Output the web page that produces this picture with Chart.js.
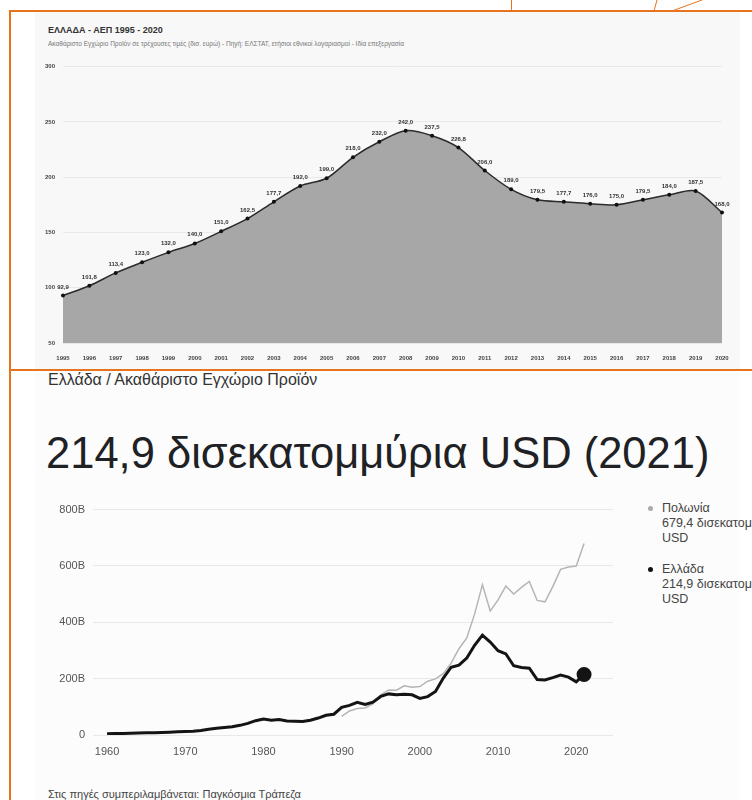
<!DOCTYPE html>
<html lang="el">
<head>
<meta charset="utf-8">
<title>Ελλάδα - ΑΕΠ</title>
<script src="https://cdn.jsdelivr.net/npm/chart.js@4.4.1/dist/chart.umd.min.js"></script>
<style>
  html, body { margin: 0; padding: 0; background: #fff; }
  body { width: 752px; height: 800px; position: relative; overflow: hidden; font-family: "Liberation Sans", Arial, sans-serif; }
  .bar { position: absolute; background: #e8731f; }
  .panel { position: absolute; }
  .txt { position: absolute; white-space: nowrap; }
  #top-wrap { position: absolute; left: 35px; top: 55px; width: 705px; height: 313px; }
  #bottom-wrap { position: absolute; left: 40px; top: 495px; width: 600px; height: 270px; }
  .legend { position: absolute; left: 648px; font-size: 12.5px; line-height: 15px; color: #444; }
  .legend .dot { position: absolute; left: 0; top: 5px; width: 5px; height: 5px; border-radius: 50%; }
  .legend .lbl { position: absolute; left: 14px; top: 0; white-space: nowrap; }
</style>
</head>
<body>
  <!-- panel backgrounds -->
  <div class="panel" style="left:35px;top:12px;width:705px;height:357px;background:#f8f8f8"></div>
  <div class="panel" style="left:35px;top:372px;width:705px;height:428px;background:#fcfcfc"></div>

  <!-- orange frame -->
  <div class="bar" style="left:9px;top:10px;width:743px;height:2px"></div>
  <div class="bar" style="left:9px;top:10px;width:2px;height:790px"></div>
  <div class="bar" style="left:9px;top:369px;width:743px;height:2px"></div>
  <div class="bar" style="left:511px;top:0;width:1px;height:11px"></div>
  <svg style="position:absolute;left:640px;top:0" width="80" height="12">
    <line x1="14" y1="11" x2="17" y2="0" stroke="#e8731f" stroke-width="1"/>
    <line x1="32" y1="11" x2="62" y2="0" stroke="#e8731f" stroke-width="1"/>
  </svg>

  <!-- top panel text -->
  <div class="txt" style="left:48px;top:25px;font-size:9px;font-weight:bold;color:#333">ΕΛΛΑΔΑ - ΑΕΠ 1995 - 2020</div>
  <div class="txt" style="left:48px;top:40px;font-size:6.5px;color:#777">Ακαθάριστο Εγχώριο Προϊόν σε τρέχουσες τιμές (δισ. ευρώ) - Πηγή: ΕΛΣΤΑΤ, ετήσιοι εθνικοί λογαριασμοί - Ιδία επεξεργασία</div>
  <div id="top-wrap"><canvas id="topChart"></canvas></div>

  <!-- bottom panel text -->
  <div class="txt" style="left:48px;top:371px;font-size:16px;color:#333">Ελλάδα / Ακαθάριστο Εγχώριο Προϊόν</div>
  <div class="txt" style="left:46px;top:429px;font-size:43.5px;color:#202124">214,9 δισεκατομμύρια USD (2021)</div>
  <div id="bottom-wrap"><canvas id="bottomChart"></canvas></div>

  <div class="legend" style="top:501px">
    <span class="dot" style="background:#aaa"></span>
    <div class="lbl">Πολωνία<br>679,4 δισεκατομμύρια<br>USD</div>
  </div>
  <div class="legend" style="top:562px">
    <span class="dot" style="background:#111"></span>
    <div class="lbl">Ελλάδα<br>214,9 δισεκατομμύρια<br>USD</div>
  </div>

  <div class="txt" style="left:48px;top:788px;font-size:11px;color:#444">Στις πηγές συμπεριλαμβάνεται: Παγκόσμια Τράπεζα</div>

<script>
// top chart: Greek GDP, current prices, bn EUR
const eurYears = ['1995', '1996', '1997', '1998', '1999', '2000', '2001', '2002', '2003', '2004', '2005', '2006', '2007',
  '2008', '2009', '2010', '2011', '2012', '2013', '2014', '2015', '2016', '2017', '2018', '2019', '2020'];
const eurGdp = [92.9, 101.8, 113.4, 123.0, 132.0, 140.0, 151.0, 162.5, 177.7, 192.0, 199.0, 218.0, 232.0,
  242.0, 237.5, 226.8, 206.0, 189.0, 179.5, 177.7, 176.0, 175.0, 179.5, 184.0, 187.5, 168.0];
const eurTicks = [50, 100, 150, 200, 250, 300];

// bottom chart: GDP, bn USD
const usdYears = [1960, 1961, 1962, 1963, 1964, 1965, 1966, 1967, 1968, 1969,
  1970, 1971, 1972, 1973, 1974, 1975, 1976, 1977, 1978, 1979,
  1980, 1981, 1982, 1983, 1984, 1985, 1986, 1987, 1988, 1989,
  1990, 1991, 1992, 1993, 1994, 1995, 1996, 1997, 1998, 1999,
  2000, 2001, 2002, 2003, 2004, 2005, 2006, 2007, 2008, 2009,
  2010, 2011, 2012, 2013, 2014, 2015, 2016, 2017, 2018, 2019,
  2020, 2021];
const greeceUsd = [4.5, 5.0, 5.3, 5.9, 6.7, 7.6, 8.4, 9.1, 9.8, 11.1,
  12.5, 13.7, 15.8, 20.5, 23.6, 26.3, 29.6, 34.3, 41.3, 50.9,
  56.6, 52.7, 54.9, 50.1, 48.8, 48.0, 52.4, 60.1, 70.0, 73.7,
  97.9, 105.1, 116.2, 108.8, 116.6, 136.9, 145.9, 143.2, 144.4, 142.5,
  130.1, 136.2, 154.2, 201.9, 240.5, 247.8, 273.3, 318.5, 354.5, 330.0,
  299.4, 287.8, 245.7, 239.9, 237.0, 196.7, 195.3, 203.5, 212.4, 205.3,
  188.8, 214.9];
const polandUsd = [null, null, null, null, null, null, null, null, null, null,
  null, null, null, null, null, null, null, null, null, null,
  null, null, null, null, null, null, null, null, null, null,
  66.0, 85.5, 94.3, 96.0, 110.8, 142.3, 159.9, 159.1, 174.4, 169.7,
  171.9, 190.9, 199.0, 217.5, 255.1, 306.1, 344.7, 429.0, 533.6, 439.8,
  479.8, 528.6, 500.4, 524.2, 545.3, 477.6, 472.6, 526.5, 588.0, 596.1,
  599.4, 679.4];
const usdTicks = [0, 200, 400, 600, 800];
const decadeTicks = [1960, 1970, 1980, 1990, 2000, 2010, 2020];

// draws the value above each point of the area chart
const pointLabels = {
  id: 'pointLabels',
  afterDatasetsDraw(chart) {
    const ctx = chart.ctx;
    const meta = chart.getDatasetMeta(0);
    ctx.save();
    ctx.font = 'bold 6px "Liberation Sans", Arial, sans-serif';
    ctx.fillStyle = '#333';
    ctx.textAlign = 'center';
    ctx.textBaseline = 'alphabetic';
    meta.data.forEach((pt, i) => {
      ctx.fillText(eurGdp[i].toFixed(1).replace('.', ','), pt.x, pt.y - 7);
    });
    ctx.restore();
  }
};

new Chart(document.getElementById('topChart'), {
  type: 'line',
  data: {
    labels: eurYears,
    datasets: [{
      data: eurGdp,
      fill: 'start',
      backgroundColor: '#a7a7a7',
      borderColor: '#2b2b2b',
      borderWidth: 1.5,
      tension: 0.3,
      pointRadius: 2,
      pointBackgroundColor: '#111',
      pointBorderWidth: 0
    }]
  },
  options: {
    responsive: true,
    maintainAspectRatio: false,
    animation: false,
    layout: { padding: { top: 8, right: 18, bottom: 5, left: 0 } },
    plugins: { legend: { display: false }, tooltip: { enabled: false } },
    scales: {
      x: {
        offset: false,
        grid: { display: false },
        border: { display: false },
        ticks: { color: '#444', font: { size: 6, weight: 'bold' }, maxRotation: 0, autoSkip: false, padding: 4 },
        afterFit: s => { s.height = 20; }
      },
      y: {
        min: 50,
        max: 300,
        z: 1,
        afterBuildTicks: s => { s.ticks = eurTicks.map(v => ({ value: v })); },
        grid: { color: 'rgba(0,0,0,0.06)', drawTicks: false },
        border: { display: false },
        ticks: { color: '#444', font: { size: 6, weight: 'bold' }, padding: 8 },
        afterFit: s => { s.width = 28; }
      }
    }
  },
  plugins: [pointLabels]
});

new Chart(document.getElementById('bottomChart'), {
  type: 'line',
  data: {
    datasets: [{
      label: 'Ελλάδα',
      data: usdYears.map((y, i) => ({ x: y, y: greeceUsd[i] })),
      borderColor: '#141414',
      backgroundColor: '#141414',
      borderWidth: 3,
      tension: 0,
      pointRadius: c => (c.dataIndex === usdYears.length - 1 ? 6 : 0)
    }, {
      label: 'Πολωνία',
      data: usdYears.map((y, i) => ({ x: y, y: polandUsd[i] })),
      borderColor: '#b5b5b5',
      borderWidth: 1.5,
      tension: 0,
      pointRadius: 0
    }]
  },
  options: {
    responsive: true,
    maintainAspectRatio: false,
    animation: false,
    layout: { padding: { top: 10, right: 27, bottom: 6, left: 0 } },
    plugins: { legend: { display: false }, tooltip: { enabled: false } },
    scales: {
      x: {
        type: 'linear',
        min: 1958.2,
        max: 2024.7,
        afterBuildTicks: s => { s.ticks = decadeTicks.map(v => ({ value: v })); },
        grid: { display: false },
        border: { display: false },
        ticks: { color: '#555', font: { size: 11 }, padding: 2, callback: v => String(v) },
        afterFit: s => { s.height = 24; }
      },
      y: {
        min: 0,
        max: 800,
        afterBuildTicks: s => { s.ticks = usdTicks.map(v => ({ value: v })); },
        grid: { color: '#e8e8e8', drawTicks: false },
        border: { display: false },
        ticks: { color: '#555', font: { size: 11 }, padding: 8, callback: v => (v === 0 ? '0' : v + 'B') },
        afterFit: s => { s.width = 53; }
      }
    }
  }
});
</script>
</body>
</html>
